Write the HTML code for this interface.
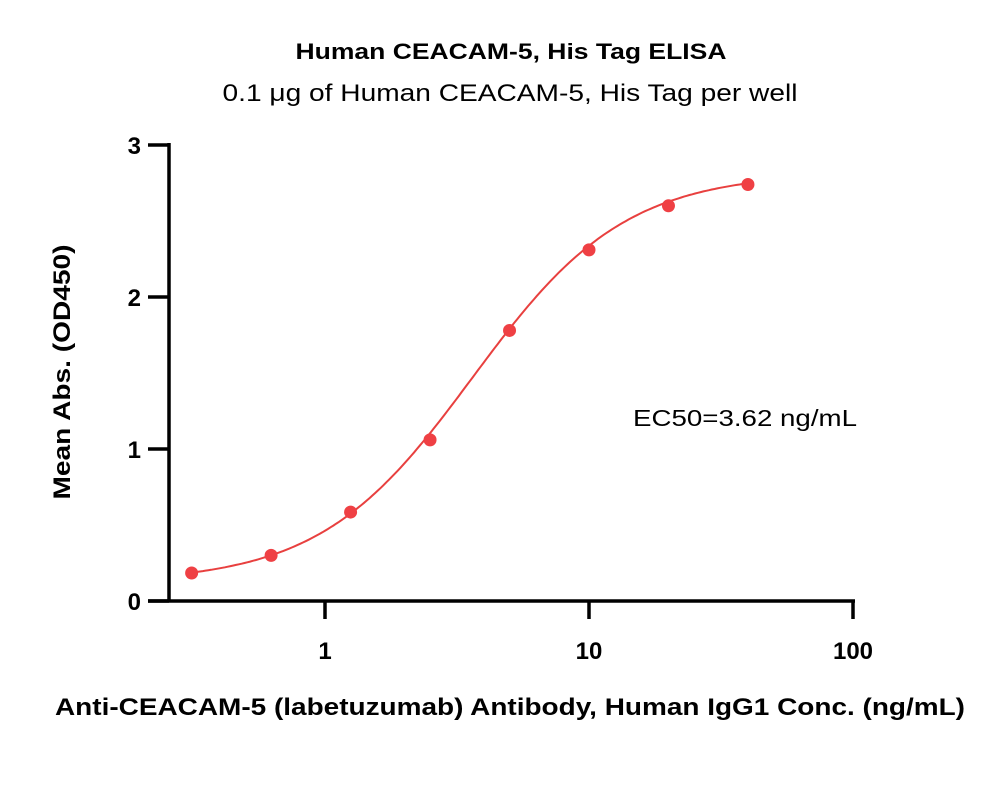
<!DOCTYPE html>
<html><head><meta charset="utf-8"><style>
body{margin:0;background:#fff;font-family:"Liberation Sans",sans-serif}
</style></head><body>
<svg id="chart" width="1000" height="795" xmlns="http://www.w3.org/2000/svg" font-family="Liberation Sans, sans-serif">
<text x="511" y="59" text-anchor="middle" font-size="22" font-weight="bold" textLength="431" lengthAdjust="spacingAndGlyphs">Human CEACAM-5, His Tag ELISA</text>
<text x="510" y="101" text-anchor="middle" font-size="24" textLength="575" lengthAdjust="spacingAndGlyphs">0.1 μg of Human CEACAM-5, His Tag per well</text>
<text x="745" y="426" text-anchor="middle" font-size="23" textLength="224" lengthAdjust="spacingAndGlyphs">EC50=3.62 ng/mL</text>
<text transform="translate(70,372) rotate(-90)" text-anchor="middle" font-size="24" font-weight="bold" textLength="255" lengthAdjust="spacingAndGlyphs">Mean Abs. (OD450)</text>
<text x="510" y="715" text-anchor="middle" font-size="24" font-weight="bold" textLength="910" lengthAdjust="spacingAndGlyphs">Anti-CEACAM-5 (labetuzumab) Antibody, Human IgG1 Conc. (ng/mL)</text>
<g id="axes"></g><g id="marks"></g>
</svg>
<script>
const xValues=[0.3125,0.625,1.25,2.5,5,10,20,40];
const yValues=[0.184,0.30,0.585,1.06,1.78,2.31,2.60,2.74];
const yTicks=[0,1,2,3];
const xTicks=[1,10,100];
const xTickLabels=["1","10","100"];
const fitBottom=0.12,fitTop=2.82,fitEC50=3.62,fitHill=1.5;
const NS="http://www.w3.org/2000/svg";
function X(v){return 325+Math.log10(v)*264;}
function Y(v){return 601-v*152;}
function mk(t,a,p){const e=document.createElementNS(NS,t);for(const k in a)e.setAttribute(k,a[k]);p.appendChild(e);return e;}
const ax=document.getElementById('axes'),mg=document.getElementById('marks');
let e=mk('line',{x1:148,y1:601,x2:855,y2:601,stroke:'#000','stroke-width':3.5},ax);

e=mk('line',{x1:169,y1:143,x2:169,y2:602,stroke:'#000','stroke-width':3.5},ax);

yTicks.forEach(v=>{
 let t=mk('line',{x1:148,y1:Y(v),x2:169,y2:Y(v),stroke:'#000','stroke-width':3.5},ax);
 
 let l=mk('text',{x:141,y:Y(v)+9,'text-anchor':'end','font-size':24,'font-weight':'bold'},ax);l.textContent=v;
 
});
xTicks.forEach((v,i)=>{
 let t=mk('line',{x1:X(v),y1:601,x2:X(v),y2:619,stroke:'#000','stroke-width':3.5},ax);
 
 let l=mk('text',{x:X(v),y:659,'text-anchor':'middle','font-size':24,'font-weight':'bold'},ax);l.textContent=xTickLabels[i];
 
});
let d='';const lo=Math.log10(xValues[0]),hi=Math.log10(xValues[xValues.length-1]);
for(let i=0;i<=200;i++){const lx=lo+(hi-lo)*i/200,x=Math.pow(10,lx);
 const y=fitBottom+(fitTop-fitBottom)/(1+Math.pow(fitEC50/x,fitHill));
 d+=(i?'L':'M')+X(x).toFixed(1)+' '+Y(y).toFixed(1);}
e=mk('path',{d:d,fill:'none',stroke:'#e8403f','stroke-width':2},mg);

xValues.forEach((x,i)=>{
 let c=mk('circle',{cx:X(x),cy:Y(yValues[i]),r:6.5,fill:'#ef4044'},mg);
 
});
</script>
</body></html>
